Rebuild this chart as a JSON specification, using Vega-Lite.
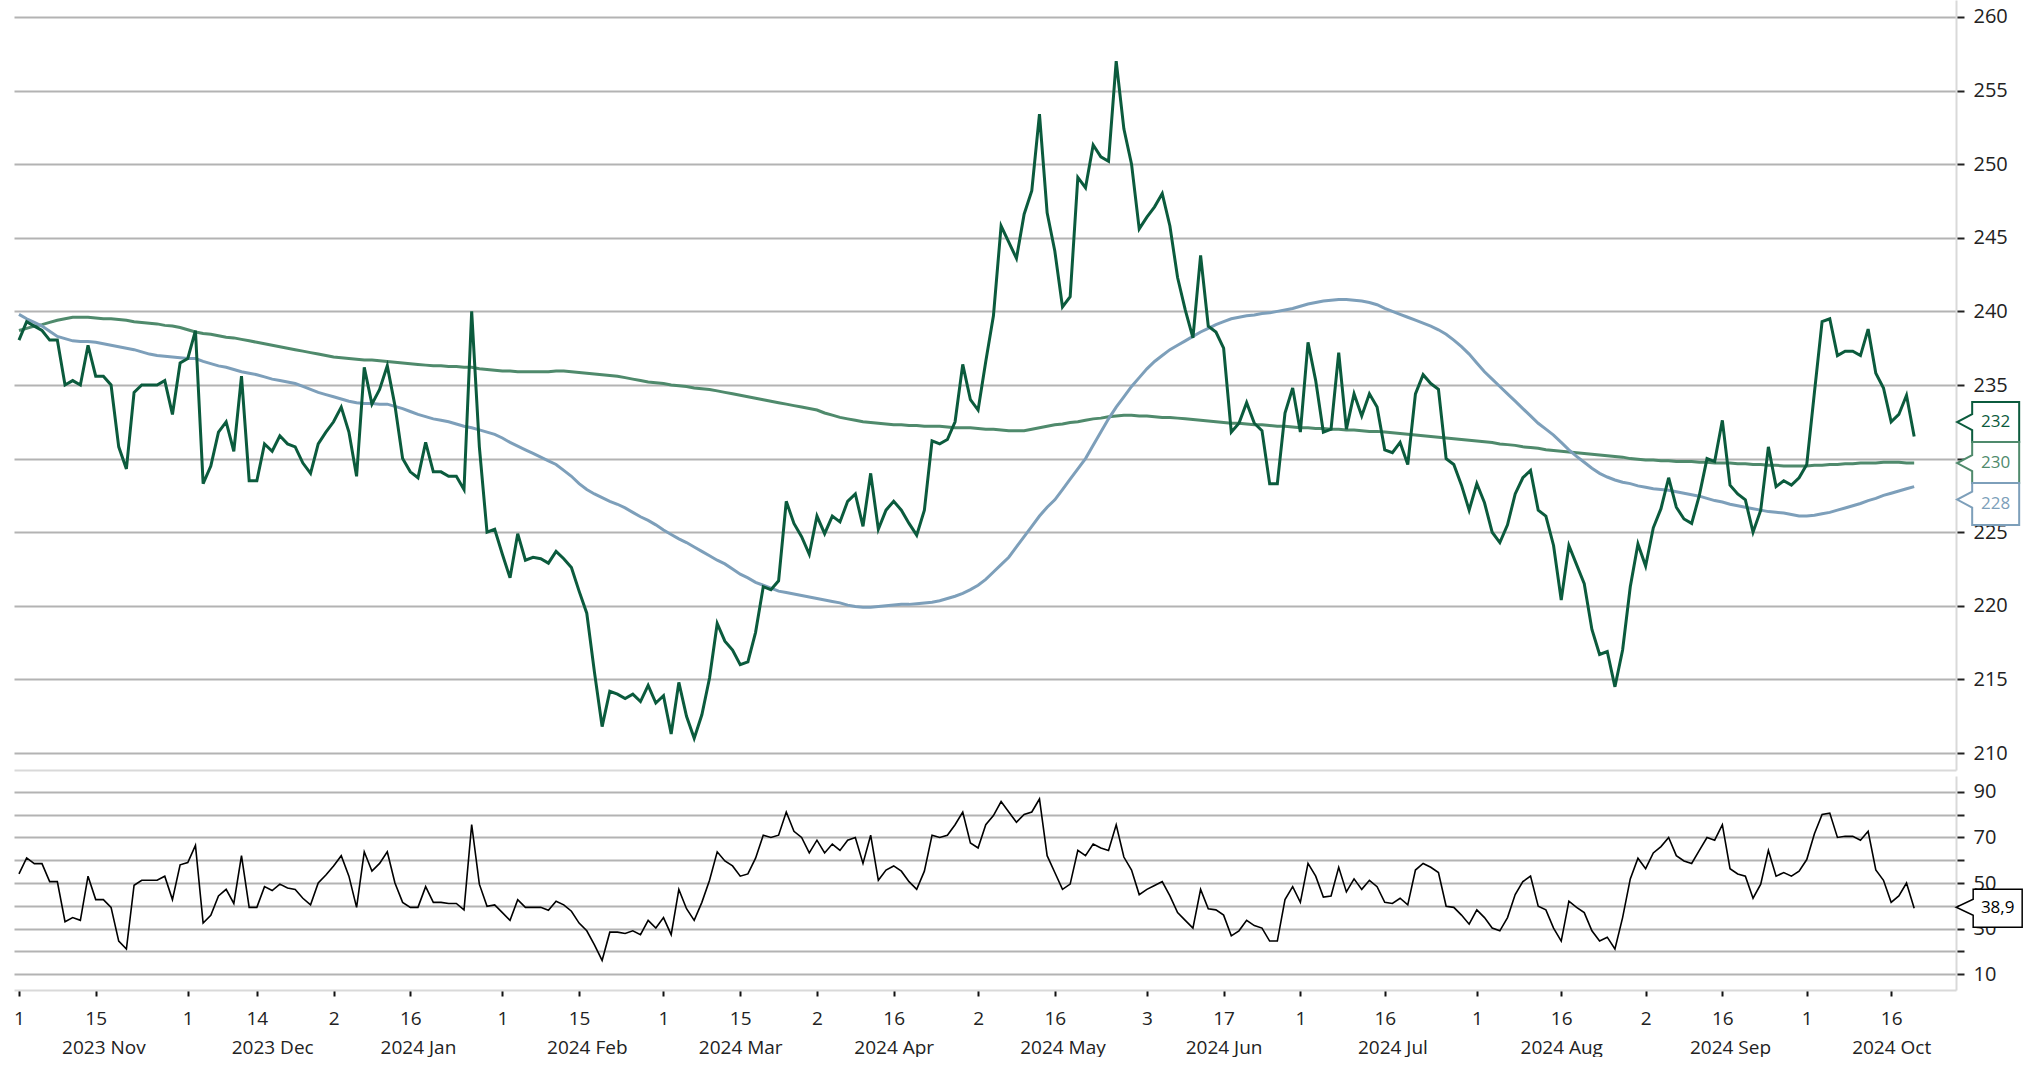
{
  "$schema": "https://vega.github.io/schema/vega-lite/v6.json",
  "padding": {"left": 12, "top": 0, "right": 0, "bottom": 0},
  "background": "white",
  "config": {
    "view": {"stroke": null},
    "font": "Open Sans",
    "locale": {"number": {"decimal": ",", "thousands": ".", "grouping": [3], "currency": ["", " €"]}}
  },
  "datasets": {
    "p": [
      {"d":"2023-11-01","c":238.05,"m50":239.8,"m200":238.7,"rsi":54},
      {"d":"2023-11-02","c":239.3,"m50":239.5,"m200":238.85,"rsi":61},
      {"d":"2023-11-03","c":239.0,"m50":239.25,"m200":239.0,"rsi":58.5},
      {"d":"2023-11-06","c":238.7,"m50":239.0,"m200":239.1,"rsi":58.5},
      {"d":"2023-11-07","c":238.05,"m50":238.65,"m200":239.25,"rsi":50.6},
      {"d":"2023-11-08","c":238.05,"m50":238.3,"m200":239.4,"rsi":50.6},
      {"d":"2023-11-09","c":235.0,"m50":238.15,"m200":239.5,"rsi":33},
      {"d":"2023-11-10","c":235.3,"m50":238.0,"m200":239.6,"rsi":34.8},
      {"d":"2023-11-13","c":235.0,"m50":237.95,"m200":239.6,"rsi":33.6},
      {"d":"2023-11-14","c":237.7,"m50":237.95,"m200":239.6,"rsi":53},
      {"d":"2023-11-15","c":235.6,"m50":237.9,"m200":239.55,"rsi":42.7},
      {"d":"2023-11-16","c":235.6,"m50":237.8,"m200":239.5,"rsi":42.7},
      {"d":"2023-11-17","c":235.0,"m50":237.7,"m200":239.5,"rsi":39.3},
      {"d":"2023-11-20","c":230.8,"m50":237.6,"m200":239.45,"rsi":24.5},
      {"d":"2023-11-21","c":229.3,"m50":237.5,"m200":239.4,"rsi":21},
      {"d":"2023-11-22","c":234.5,"m50":237.4,"m200":239.3,"rsi":49},
      {"d":"2023-11-23","c":235.0,"m50":237.25,"m200":239.25,"rsi":51.2},
      {"d":"2023-11-24","c":235.0,"m50":237.1,"m200":239.2,"rsi":51.2},
      {"d":"2023-11-27","c":235.0,"m50":237.0,"m200":239.15,"rsi":51.2},
      {"d":"2023-11-28","c":235.3,"m50":236.95,"m200":239.05,"rsi":53},
      {"d":"2023-11-29","c":233.0,"m50":236.9,"m200":239.0,"rsi":42.7},
      {"d":"2023-11-30","c":236.5,"m50":236.85,"m200":238.9,"rsi":58},
      {"d":"2023-12-01","c":236.8,"m50":236.8,"m200":238.75,"rsi":59},
      {"d":"2023-12-04","c":238.7,"m50":236.8,"m200":238.6,"rsi":66.5},
      {"d":"2023-12-05","c":228.3,"m50":236.6,"m200":238.5,"rsi":32.4},
      {"d":"2023-12-06","c":229.5,"m50":236.45,"m200":238.45,"rsi":35.8},
      {"d":"2023-12-07","c":231.8,"m50":236.3,"m200":238.35,"rsi":44.3},
      {"d":"2023-12-08","c":232.5,"m50":236.2,"m200":238.25,"rsi":47.2},
      {"d":"2023-12-11","c":230.5,"m50":236.05,"m200":238.2,"rsi":41},
      {"d":"2023-12-12","c":235.6,"m50":235.9,"m200":238.1,"rsi":62},
      {"d":"2023-12-13","c":228.5,"m50":235.8,"m200":238.0,"rsi":39.3},
      {"d":"2023-12-14","c":228.5,"m50":235.7,"m200":237.9,"rsi":39.3},
      {"d":"2023-12-15","c":231.0,"m50":235.55,"m200":237.8,"rsi":48.4},
      {"d":"2023-12-18","c":230.5,"m50":235.4,"m200":237.7,"rsi":46.7},
      {"d":"2023-12-19","c":231.55,"m50":235.3,"m200":237.6,"rsi":49.5},
      {"d":"2023-12-20","c":231.0,"m50":235.2,"m200":237.5,"rsi":47.8},
      {"d":"2023-12-21","c":230.8,"m50":235.1,"m200":237.4,"rsi":47.2},
      {"d":"2023-12-22","c":229.7,"m50":234.9,"m200":237.3,"rsi":43.3},
      {"d":"2023-12-27","c":229.0,"m50":234.7,"m200":237.2,"rsi":40.4},
      {"d":"2023-12-28","c":231.0,"m50":234.5,"m200":237.1,"rsi":50},
      {"d":"2023-12-29","c":231.8,"m50":234.35,"m200":237.0,"rsi":53.5},
      {"d":"2024-01-02","c":232.5,"m50":234.2,"m200":236.9,"rsi":57.5},
      {"d":"2024-01-03","c":233.5,"m50":234.05,"m200":236.85,"rsi":62},
      {"d":"2024-01-04","c":231.8,"m50":233.9,"m200":236.8,"rsi":53},
      {"d":"2024-01-05","c":228.8,"m50":233.8,"m200":236.75,"rsi":39.3},
      {"d":"2024-01-08","c":236.2,"m50":233.75,"m200":236.7,"rsi":63.7},
      {"d":"2024-01-09","c":233.7,"m50":233.75,"m200":236.7,"rsi":55.2},
      {"d":"2024-01-10","c":234.7,"m50":233.7,"m200":236.65,"rsi":58.6},
      {"d":"2024-01-11","c":236.3,"m50":233.7,"m200":236.6,"rsi":63.7},
      {"d":"2024-01-12","c":233.6,"m50":233.55,"m200":236.55,"rsi":50},
      {"d":"2024-01-15","c":230.0,"m50":233.4,"m200":236.5,"rsi":41.5},
      {"d":"2024-01-16","c":229.1,"m50":233.2,"m200":236.45,"rsi":39.3},
      {"d":"2024-01-17","c":228.7,"m50":233.0,"m200":236.4,"rsi":39.3},
      {"d":"2024-01-18","c":231.1,"m50":232.85,"m200":236.35,"rsi":48.4},
      {"d":"2024-01-19","c":229.1,"m50":232.7,"m200":236.3,"rsi":41.5},
      {"d":"2024-01-22","c":229.1,"m50":232.6,"m200":236.3,"rsi":41.5},
      {"d":"2024-01-23","c":228.8,"m50":232.5,"m200":236.25,"rsi":41},
      {"d":"2024-01-24","c":228.8,"m50":232.35,"m200":236.25,"rsi":41},
      {"d":"2024-01-25","c":227.9,"m50":232.2,"m200":236.2,"rsi":38.2},
      {"d":"2024-01-26","c":240.0,"m50":232.1,"m200":236.2,"rsi":75.7},
      {"d":"2024-01-29","c":230.8,"m50":231.95,"m200":236.1,"rsi":49.5},
      {"d":"2024-01-30","c":225.0,"m50":231.8,"m200":236.05,"rsi":39.8},
      {"d":"2024-01-31","c":225.2,"m50":231.65,"m200":236.0,"rsi":40.4},
      {"d":"2024-02-01","c":223.5,"m50":231.4,"m200":235.95,"rsi":37},
      {"d":"2024-02-02","c":221.9,"m50":231.1,"m200":235.95,"rsi":33.6},
      {"d":"2024-02-05","c":224.9,"m50":230.85,"m200":235.9,"rsi":42.7},
      {"d":"2024-02-06","c":223.1,"m50":230.6,"m200":235.9,"rsi":39.3},
      {"d":"2024-02-07","c":223.3,"m50":230.35,"m200":235.9,"rsi":39.3},
      {"d":"2024-02-08","c":223.2,"m50":230.1,"m200":235.9,"rsi":39.3},
      {"d":"2024-02-09","c":222.9,"m50":229.85,"m200":235.9,"rsi":38},
      {"d":"2024-02-12","c":223.7,"m50":229.6,"m200":235.95,"rsi":42},
      {"d":"2024-02-13","c":223.2,"m50":229.2,"m200":235.95,"rsi":40.4},
      {"d":"2024-02-14","c":222.6,"m50":228.8,"m200":235.9,"rsi":37.6},
      {"d":"2024-02-15","c":221.0,"m50":228.3,"m200":235.85,"rsi":32.4},
      {"d":"2024-02-16","c":219.5,"m50":227.9,"m200":235.8,"rsi":29},
      {"d":"2024-02-19","c":215.5,"m50":227.6,"m200":235.75,"rsi":22.8},
      {"d":"2024-02-20","c":211.8,"m50":227.35,"m200":235.7,"rsi":16},
      {"d":"2024-02-21","c":214.2,"m50":227.1,"m200":235.65,"rsi":28.4},
      {"d":"2024-02-22","c":214.0,"m50":226.9,"m200":235.6,"rsi":28.4},
      {"d":"2024-02-23","c":213.7,"m50":226.65,"m200":235.5,"rsi":27.8},
      {"d":"2024-02-26","c":214.0,"m50":226.35,"m200":235.4,"rsi":29},
      {"d":"2024-02-27","c":213.5,"m50":226.05,"m200":235.3,"rsi":27.3},
      {"d":"2024-02-28","c":214.6,"m50":225.8,"m200":235.2,"rsi":33.6},
      {"d":"2024-02-29","c":213.4,"m50":225.5,"m200":235.15,"rsi":30.2},
      {"d":"2024-03-01","c":213.9,"m50":225.15,"m200":235.1,"rsi":34.8},
      {"d":"2024-03-04","c":211.3,"m50":224.85,"m200":235.0,"rsi":27.3},
      {"d":"2024-03-05","c":214.8,"m50":224.55,"m200":234.95,"rsi":47.2},
      {"d":"2024-03-06","c":212.5,"m50":224.3,"m200":234.9,"rsi":38.7},
      {"d":"2024-03-07","c":211.0,"m50":224.0,"m200":234.8,"rsi":33.6},
      {"d":"2024-03-08","c":212.6,"m50":223.7,"m200":234.75,"rsi":41.5},
      {"d":"2024-03-11","c":215.1,"m50":223.4,"m200":234.7,"rsi":51.2},
      {"d":"2024-03-12","c":218.8,"m50":223.1,"m200":234.6,"rsi":63.7},
      {"d":"2024-03-13","c":217.6,"m50":222.85,"m200":234.5,"rsi":59.7},
      {"d":"2024-03-14","c":217.0,"m50":222.5,"m200":234.4,"rsi":57.5},
      {"d":"2024-03-15","c":216.0,"m50":222.15,"m200":234.3,"rsi":53},
      {"d":"2024-03-18","c":216.2,"m50":221.9,"m200":234.2,"rsi":54},
      {"d":"2024-03-19","c":218.2,"m50":221.6,"m200":234.1,"rsi":60.9},
      {"d":"2024-03-20","c":221.3,"m50":221.4,"m200":234.0,"rsi":71},
      {"d":"2024-03-21","c":221.1,"m50":221.2,"m200":233.9,"rsi":70},
      {"d":"2024-03-22","c":221.7,"m50":221.0,"m200":233.8,"rsi":71},
      {"d":"2024-03-25","c":227.1,"m50":220.9,"m200":233.7,"rsi":81.2},
      {"d":"2024-03-26","c":225.6,"m50":220.8,"m200":233.6,"rsi":72.7},
      {"d":"2024-03-27","c":224.7,"m50":220.7,"m200":233.5,"rsi":70},
      {"d":"2024-03-28","c":223.5,"m50":220.6,"m200":233.4,"rsi":63.2},
      {"d":"2024-04-02","c":226.1,"m50":220.5,"m200":233.3,"rsi":68.8},
      {"d":"2024-04-03","c":224.9,"m50":220.4,"m200":233.1,"rsi":63.2},
      {"d":"2024-04-04","c":226.1,"m50":220.3,"m200":232.95,"rsi":67.1},
      {"d":"2024-04-05","c":225.7,"m50":220.2,"m200":232.8,"rsi":64.3},
      {"d":"2024-04-08","c":227.1,"m50":220.05,"m200":232.7,"rsi":68.8},
      {"d":"2024-04-09","c":227.6,"m50":219.95,"m200":232.6,"rsi":70},
      {"d":"2024-04-10","c":225.4,"m50":219.9,"m200":232.5,"rsi":58.6},
      {"d":"2024-04-11","c":229.0,"m50":219.9,"m200":232.45,"rsi":71},
      {"d":"2024-04-12","c":225.2,"m50":219.95,"m200":232.4,"rsi":51.2},
      {"d":"2024-04-15","c":226.5,"m50":220.0,"m200":232.35,"rsi":55.7},
      {"d":"2024-04-16","c":227.1,"m50":220.05,"m200":232.3,"rsi":57.5},
      {"d":"2024-04-17","c":226.5,"m50":220.1,"m200":232.3,"rsi":55.2},
      {"d":"2024-04-18","c":225.6,"m50":220.1,"m200":232.25,"rsi":50.6},
      {"d":"2024-04-19","c":224.8,"m50":220.15,"m200":232.25,"rsi":47.2},
      {"d":"2024-04-22","c":226.5,"m50":220.2,"m200":232.2,"rsi":55.2},
      {"d":"2024-04-23","c":231.2,"m50":220.25,"m200":232.2,"rsi":71},
      {"d":"2024-04-24","c":231.0,"m50":220.35,"m200":232.2,"rsi":70},
      {"d":"2024-04-25","c":231.3,"m50":220.5,"m200":232.15,"rsi":71},
      {"d":"2024-04-26","c":232.5,"m50":220.65,"m200":232.1,"rsi":75.6},
      {"d":"2024-04-29","c":236.4,"m50":220.85,"m200":232.1,"rsi":81.2},
      {"d":"2024-04-30","c":234.0,"m50":221.1,"m200":232.1,"rsi":67.6},
      {"d":"2024-05-02","c":233.3,"m50":221.4,"m200":232.05,"rsi":65.4},
      {"d":"2024-05-03","c":236.6,"m50":221.8,"m200":232.0,"rsi":75.6},
      {"d":"2024-05-06","c":239.7,"m50":222.3,"m200":232.0,"rsi":79.6},
      {"d":"2024-05-07","c":245.8,"m50":222.8,"m200":231.95,"rsi":85.8},
      {"d":"2024-05-08","c":244.7,"m50":223.3,"m200":231.9,"rsi":81.2},
      {"d":"2024-05-09","c":243.6,"m50":224.0,"m200":231.9,"rsi":76.7},
      {"d":"2024-05-10","c":246.6,"m50":224.7,"m200":231.9,"rsi":80.1},
      {"d":"2024-05-13","c":248.2,"m50":225.4,"m200":232.0,"rsi":81.2},
      {"d":"2024-05-14","c":253.4,"m50":226.1,"m200":232.1,"rsi":86.9},
      {"d":"2024-05-15","c":246.7,"m50":226.7,"m200":232.2,"rsi":62},
      {"d":"2024-05-16","c":244.1,"m50":227.2,"m200":232.3,"rsi":54.6},
      {"d":"2024-05-17","c":240.3,"m50":227.9,"m200":232.35,"rsi":47.2},
      {"d":"2024-05-20","c":241.0,"m50":228.6,"m200":232.45,"rsi":49.5},
      {"d":"2024-05-21","c":249.1,"m50":229.3,"m200":232.5,"rsi":64.3},
      {"d":"2024-05-22","c":248.4,"m50":230.0,"m200":232.6,"rsi":62},
      {"d":"2024-05-23","c":251.3,"m50":230.9,"m200":232.7,"rsi":67.1},
      {"d":"2024-05-24","c":250.5,"m50":231.8,"m200":232.75,"rsi":65.4},
      {"d":"2024-05-27","c":250.2,"m50":232.7,"m200":232.85,"rsi":64.3},
      {"d":"2024-05-28","c":257.0,"m50":233.5,"m200":232.9,"rsi":75.6},
      {"d":"2024-05-29","c":252.4,"m50":234.2,"m200":232.95,"rsi":61.4},
      {"d":"2024-05-30","c":250.0,"m50":234.9,"m200":232.95,"rsi":55.7},
      {"d":"2024-05-31","c":245.6,"m50":235.5,"m200":232.9,"rsi":44.9},
      {"d":"2024-06-03","c":246.4,"m50":236.1,"m200":232.9,"rsi":47.2},
      {"d":"2024-06-04","c":247.1,"m50":236.6,"m200":232.85,"rsi":48.9},
      {"d":"2024-06-05","c":248.0,"m50":237.0,"m200":232.8,"rsi":50.6},
      {"d":"2024-06-06","c":245.8,"m50":237.4,"m200":232.8,"rsi":44.3},
      {"d":"2024-06-07","c":242.3,"m50":237.7,"m200":232.75,"rsi":37},
      {"d":"2024-06-10","c":240.1,"m50":238.0,"m200":232.7,"rsi":33.6},
      {"d":"2024-06-11","c":238.2,"m50":238.3,"m200":232.65,"rsi":30.2},
      {"d":"2024-06-12","c":243.8,"m50":238.6,"m200":232.6,"rsi":47.2},
      {"d":"2024-06-13","c":239.0,"m50":238.85,"m200":232.55,"rsi":38.7},
      {"d":"2024-06-14","c":238.6,"m50":239.1,"m200":232.5,"rsi":38.2},
      {"d":"2024-06-17","c":237.5,"m50":239.3,"m200":232.45,"rsi":35.9},
      {"d":"2024-06-18","c":231.8,"m50":239.5,"m200":232.4,"rsi":26.8},
      {"d":"2024-06-19","c":232.4,"m50":239.6,"m200":232.4,"rsi":29},
      {"d":"2024-06-20","c":233.8,"m50":239.7,"m200":232.35,"rsi":33.6},
      {"d":"2024-06-21","c":232.4,"m50":239.75,"m200":232.3,"rsi":31.3},
      {"d":"2024-06-24","c":231.9,"m50":239.85,"m200":232.3,"rsi":30.2},
      {"d":"2024-06-25","c":228.3,"m50":239.9,"m200":232.25,"rsi":24.5},
      {"d":"2024-06-26","c":228.3,"m50":240.0,"m200":232.2,"rsi":24.5},
      {"d":"2024-06-27","c":233.1,"m50":240.1,"m200":232.2,"rsi":42.7},
      {"d":"2024-06-28","c":234.8,"m50":240.2,"m200":232.15,"rsi":48.4},
      {"d":"2024-07-01","c":231.8,"m50":240.35,"m200":232.1,"rsi":41.5},
      {"d":"2024-07-02","c":237.9,"m50":240.5,"m200":232.1,"rsi":58.6},
      {"d":"2024-07-03","c":235.3,"m50":240.6,"m200":232.05,"rsi":53},
      {"d":"2024-07-04","c":231.8,"m50":240.7,"m200":232.05,"rsi":43.8},
      {"d":"2024-07-05","c":232.0,"m50":240.75,"m200":232.0,"rsi":44.3},
      {"d":"2024-07-08","c":237.2,"m50":240.8,"m200":232.0,"rsi":56.9},
      {"d":"2024-07-09","c":232.0,"m50":240.8,"m200":231.95,"rsi":46.1},
      {"d":"2024-07-10","c":234.4,"m50":240.75,"m200":231.95,"rsi":51.8},
      {"d":"2024-07-11","c":232.9,"m50":240.7,"m200":231.9,"rsi":47.2},
      {"d":"2024-07-12","c":234.4,"m50":240.6,"m200":231.85,"rsi":51.2},
      {"d":"2024-07-15","c":233.5,"m50":240.45,"m200":231.85,"rsi":48.4},
      {"d":"2024-07-16","c":230.6,"m50":240.2,"m200":231.8,"rsi":41.5},
      {"d":"2024-07-17","c":230.4,"m50":240.0,"m200":231.75,"rsi":41},
      {"d":"2024-07-18","c":231.1,"m50":239.8,"m200":231.7,"rsi":43.3},
      {"d":"2024-07-19","c":229.6,"m50":239.6,"m200":231.65,"rsi":40.4},
      {"d":"2024-07-22","c":234.4,"m50":239.4,"m200":231.6,"rsi":55.7},
      {"d":"2024-07-23","c":235.7,"m50":239.2,"m200":231.55,"rsi":58.6},
      {"d":"2024-07-24","c":235.1,"m50":239.0,"m200":231.5,"rsi":56.9},
      {"d":"2024-07-25","c":234.7,"m50":238.75,"m200":231.45,"rsi":54.6},
      {"d":"2024-07-26","c":230.0,"m50":238.45,"m200":231.4,"rsi":39.8},
      {"d":"2024-07-29","c":229.6,"m50":238.05,"m200":231.35,"rsi":39.3},
      {"d":"2024-07-30","c":228.2,"m50":237.6,"m200":231.3,"rsi":35.9},
      {"d":"2024-07-31","c":226.5,"m50":237.1,"m200":231.25,"rsi":31.9},
      {"d":"2024-08-01","c":228.3,"m50":236.5,"m200":231.2,"rsi":38.2},
      {"d":"2024-08-02","c":227.0,"m50":235.9,"m200":231.15,"rsi":34.8},
      {"d":"2024-08-05","c":225.0,"m50":235.4,"m200":231.1,"rsi":30.2},
      {"d":"2024-08-06","c":224.3,"m50":234.9,"m200":231.0,"rsi":29},
      {"d":"2024-08-07","c":225.5,"m50":234.4,"m200":230.95,"rsi":34.8},
      {"d":"2024-08-08","c":227.6,"m50":233.9,"m200":230.9,"rsi":44.9},
      {"d":"2024-08-09","c":228.7,"m50":233.4,"m200":230.8,"rsi":50.6},
      {"d":"2024-08-12","c":229.2,"m50":232.9,"m200":230.75,"rsi":53},
      {"d":"2024-08-13","c":226.5,"m50":232.4,"m200":230.7,"rsi":39.8},
      {"d":"2024-08-14","c":226.1,"m50":232.0,"m200":230.6,"rsi":38.2},
      {"d":"2024-08-15","c":224.1,"m50":231.6,"m200":230.55,"rsi":30.2},
      {"d":"2024-08-16","c":220.4,"m50":231.1,"m200":230.5,"rsi":24.5},
      {"d":"2024-08-19","c":224.1,"m50":230.6,"m200":230.45,"rsi":42},
      {"d":"2024-08-20","c":222.8,"m50":230.15,"m200":230.4,"rsi":39.3},
      {"d":"2024-08-21","c":221.5,"m50":229.75,"m200":230.35,"rsi":37},
      {"d":"2024-08-22","c":218.4,"m50":229.35,"m200":230.3,"rsi":29},
      {"d":"2024-08-23","c":216.7,"m50":229.0,"m200":230.25,"rsi":24.5},
      {"d":"2024-08-26","c":216.9,"m50":228.75,"m200":230.2,"rsi":26.2},
      {"d":"2024-08-27","c":214.5,"m50":228.55,"m200":230.15,"rsi":21},
      {"d":"2024-08-28","c":217.0,"m50":228.4,"m200":230.1,"rsi":34.8},
      {"d":"2024-08-29","c":221.3,"m50":228.3,"m200":230.0,"rsi":51.8},
      {"d":"2024-08-30","c":224.2,"m50":228.15,"m200":229.95,"rsi":60.9},
      {"d":"2024-09-02","c":222.7,"m50":228.05,"m200":229.9,"rsi":56.3},
      {"d":"2024-09-03","c":225.3,"m50":227.95,"m200":229.9,"rsi":63.2},
      {"d":"2024-09-04","c":226.6,"m50":227.9,"m200":229.85,"rsi":66},
      {"d":"2024-09-05","c":228.7,"m50":227.85,"m200":229.85,"rsi":70},
      {"d":"2024-09-06","c":226.7,"m50":227.75,"m200":229.8,"rsi":62},
      {"d":"2024-09-09","c":225.9,"m50":227.65,"m200":229.8,"rsi":59.7},
      {"d":"2024-09-10","c":225.6,"m50":227.55,"m200":229.8,"rsi":58.6},
      {"d":"2024-09-11","c":227.5,"m50":227.45,"m200":229.75,"rsi":64.3},
      {"d":"2024-09-12","c":230.0,"m50":227.3,"m200":229.75,"rsi":70},
      {"d":"2024-09-13","c":229.8,"m50":227.15,"m200":229.7,"rsi":68.8},
      {"d":"2024-09-16","c":232.6,"m50":227.05,"m200":229.7,"rsi":75.6},
      {"d":"2024-09-17","c":228.2,"m50":226.9,"m200":229.7,"rsi":56.3},
      {"d":"2024-09-18","c":227.6,"m50":226.8,"m200":229.65,"rsi":54},
      {"d":"2024-09-19","c":227.2,"m50":226.7,"m200":229.65,"rsi":53},
      {"d":"2024-09-20","c":225.0,"m50":226.6,"m200":229.6,"rsi":43.3},
      {"d":"2024-09-23","c":226.5,"m50":226.5,"m200":229.6,"rsi":49.5},
      {"d":"2024-09-24","c":230.8,"m50":226.4,"m200":229.55,"rsi":64.3},
      {"d":"2024-09-25","c":228.1,"m50":226.35,"m200":229.55,"rsi":53},
      {"d":"2024-09-26","c":228.5,"m50":226.3,"m200":229.5,"rsi":54.6},
      {"d":"2024-09-27","c":228.2,"m50":226.2,"m200":229.5,"rsi":53},
      {"d":"2024-09-30","c":228.7,"m50":226.1,"m200":229.5,"rsi":55.2},
      {"d":"2024-10-01","c":229.6,"m50":226.1,"m200":229.5,"rsi":60.3},
      {"d":"2024-10-02","c":234.5,"m50":226.15,"m200":229.55,"rsi":71.6},
      {"d":"2024-10-03","c":239.3,"m50":226.25,"m200":229.55,"rsi":80.1},
      {"d":"2024-10-04","c":239.5,"m50":226.35,"m200":229.6,"rsi":80.7},
      {"d":"2024-10-07","c":237.0,"m50":226.5,"m200":229.6,"rsi":70},
      {"d":"2024-10-08","c":237.3,"m50":226.65,"m200":229.65,"rsi":70.5},
      {"d":"2024-10-09","c":237.3,"m50":226.8,"m200":229.65,"rsi":70.5},
      {"d":"2024-10-10","c":237.0,"m50":226.95,"m200":229.7,"rsi":68.8},
      {"d":"2024-10-11","c":238.8,"m50":227.15,"m200":229.7,"rsi":72.7},
      {"d":"2024-10-14","c":235.8,"m50":227.3,"m200":229.7,"rsi":55.7},
      {"d":"2024-10-15","c":234.8,"m50":227.5,"m200":229.75,"rsi":51.2},
      {"d":"2024-10-16","c":232.5,"m50":227.65,"m200":229.75,"rsi":41.5},
      {"d":"2024-10-17","c":233.0,"m50":227.8,"m200":229.75,"rsi":44.3},
      {"d":"2024-10-18","c":234.3,"m50":227.95,"m200":229.7,"rsi":50},
      {"d":"2024-10-21","c":231.5,"m50":228.1,"m200":229.7,"rsi":38.9}
    ]
  },
  "spacing": 6,
  "resolve": {"scale": {"x": "shared"}},
  "vconcat": [
    {
      "width": 1942,
      "height": 770,
      "data": {"name": "p"},
      "encoding": {
        "x": {
          "field": "d", "type": "ordinal",
          "scale": {
            "type": "point", "padding": 0.55, "align": 0.59,
            "domain": ["2023-11-01","2023-11-02","2023-11-03","2023-11-06","2023-11-07","2023-11-08","2023-11-09","2023-11-10","2023-11-13","2023-11-14","2023-11-15","2023-11-16","2023-11-17","2023-11-20","2023-11-21","2023-11-22","2023-11-23","2023-11-24","2023-11-27","2023-11-28","2023-11-29","2023-11-30","2023-12-01","2023-12-04","2023-12-05","2023-12-06","2023-12-07","2023-12-08","2023-12-11","2023-12-12","2023-12-13","2023-12-14","2023-12-15","2023-12-18","2023-12-19","2023-12-20","2023-12-21","2023-12-22","2023-12-27","2023-12-28","2023-12-29","2024-01-02","2024-01-03","2024-01-04","2024-01-05","2024-01-08","2024-01-09","2024-01-10","2024-01-11","2024-01-12","2024-01-15","2024-01-16","2024-01-17","2024-01-18","2024-01-19","2024-01-22","2024-01-23","2024-01-24","2024-01-25","2024-01-26","2024-01-29","2024-01-30","2024-01-31","2024-02-01","2024-02-02","2024-02-05","2024-02-06","2024-02-07","2024-02-08","2024-02-09","2024-02-12","2024-02-13","2024-02-14","2024-02-15","2024-02-16","2024-02-19","2024-02-20","2024-02-21","2024-02-22","2024-02-23","2024-02-26","2024-02-27","2024-02-28","2024-02-29","2024-03-01","2024-03-04","2024-03-05","2024-03-06","2024-03-07","2024-03-08","2024-03-11","2024-03-12","2024-03-13","2024-03-14","2024-03-15","2024-03-18","2024-03-19","2024-03-20","2024-03-21","2024-03-22","2024-03-25","2024-03-26","2024-03-27","2024-03-28","2024-04-02","2024-04-03","2024-04-04","2024-04-05","2024-04-08","2024-04-09","2024-04-10","2024-04-11","2024-04-12","2024-04-15","2024-04-16","2024-04-17","2024-04-18","2024-04-19","2024-04-22","2024-04-23","2024-04-24","2024-04-25","2024-04-26","2024-04-29","2024-04-30","2024-05-02","2024-05-03","2024-05-06","2024-05-07","2024-05-08","2024-05-09","2024-05-10","2024-05-13","2024-05-14","2024-05-15","2024-05-16","2024-05-17","2024-05-20","2024-05-21","2024-05-22","2024-05-23","2024-05-24","2024-05-27","2024-05-28","2024-05-29","2024-05-30","2024-05-31","2024-06-03","2024-06-04","2024-06-05","2024-06-06","2024-06-07","2024-06-10","2024-06-11","2024-06-12","2024-06-13","2024-06-14","2024-06-17","2024-06-18","2024-06-19","2024-06-20","2024-06-21","2024-06-24","2024-06-25","2024-06-26","2024-06-27","2024-06-28","2024-07-01","2024-07-02","2024-07-03","2024-07-04","2024-07-05","2024-07-08","2024-07-09","2024-07-10","2024-07-11","2024-07-12","2024-07-15","2024-07-16","2024-07-17","2024-07-18","2024-07-19","2024-07-22","2024-07-23","2024-07-24","2024-07-25","2024-07-26","2024-07-29","2024-07-30","2024-07-31","2024-08-01","2024-08-02","2024-08-05","2024-08-06","2024-08-07","2024-08-08","2024-08-09","2024-08-12","2024-08-13","2024-08-14","2024-08-15","2024-08-16","2024-08-19","2024-08-20","2024-08-21","2024-08-22","2024-08-23","2024-08-26","2024-08-27","2024-08-28","2024-08-29","2024-08-30","2024-09-02","2024-09-03","2024-09-04","2024-09-05","2024-09-06","2024-09-09","2024-09-10","2024-09-11","2024-09-12","2024-09-13","2024-09-16","2024-09-17","2024-09-18","2024-09-19","2024-09-20","2024-09-23","2024-09-24","2024-09-25","2024-09-26","2024-09-27","2024-09-30","2024-10-01","2024-10-02","2024-10-03","2024-10-04","2024-10-07","2024-10-08","2024-10-09","2024-10-10","2024-10-11","2024-10-14","2024-10-15","2024-10-16","2024-10-17","2024-10-18","2024-10-21","2024-10-22","2024-10-23","2024-10-24","2024-10-25","2024-10-28"]
          },
          "axis": {"labels": false, "ticks": false, "title": null, "grid": false, "domainColor": "#d9d9d9", "domainWidth": 2}
        },
        "y": {
          "type": "quantitative",
          "scale": {"domain": [208.85, 261.15], "nice": false, "zero": false},
          "axis": {
            "orient": "right", "title": null,
            "values": [210, 215, 220, 225, 230, 235, 240, 245, 250, 255, 260],
            "grid": true, "gridColor": "#b3b3b3", "gridWidth": 2,
            "domainColor": "#d9d9d9", "domainWidth": 2,
            "tickColor": "#222222", "tickSize": 8, "tickWidth": 2,
            "labelFont": "Open Sans", "labelFontSize": 20, "labelColor": "#222222", "labelPadding": 9, "labelOverlap": false
          }
        }
      },
      "layer": [
        {
          "mark": {"type": "line", "color": "#4f8a6c", "strokeWidth": 3},
          "encoding": {"y": {"field": "m200"}}
        },
        {
          "mark": {"type": "line", "color": "#7d9fba", "strokeWidth": 3},
          "encoding": {"y": {"field": "m50"}}
        },
        {
          "mark": {"type": "line", "color": "#0b5b3d", "strokeWidth": 3},
          "encoding": {"y": {"field": "c"}}
        },
        {
          "transform": [{"filter": "datum.d == '2024-10-21'"}],
          "mark": {"type": "point", "shape": "M58,-34.5L105,-34.5L105,5.5L58,5.5L58,-6.5L43,-14.5L58,-22.5Z", "size": 4, "filled": true, "fill": "white", "stroke": "#0b5b3d", "strokeWidth": 2, "opacity": 1},
          "encoding": {"y": {"field": "c"}}
        },
        {
          "transform": [{"filter": "datum.d == '2024-10-21'"}],
          "mark": {"type": "text", "dx": 81.5, "dy": -14.5, "font": "Open Sans", "fontSize": 17, "color": "#0b5b3d"},
          "encoding": {
            "y": {"field": "c"},
            "text": {"field": "c", "type": "quantitative", "format": ".0f"}
          }
        },
        {
          "transform": [{"filter": "datum.d == '2024-10-21'"}],
          "mark": {"type": "point", "shape": "M58,-21L105,-21L105,20L58,20L58,8L43,0L58,-8Z", "size": 4, "filled": true, "fill": "white", "stroke": "#4f8a6c", "strokeWidth": 2, "opacity": 1},
          "encoding": {"y": {"field": "m200"}}
        },
        {
          "transform": [{"filter": "datum.d == '2024-10-21'"}],
          "mark": {"type": "text", "dx": 81.5, "dy": -0.5, "font": "Open Sans", "fontSize": 17, "color": "#4f8a6c"},
          "encoding": {
            "y": {"field": "m200"},
            "text": {"field": "m200", "type": "quantitative", "format": ".0f"}
          }
        },
        {
          "transform": [{"filter": "datum.d == '2024-10-21'"}],
          "mark": {"type": "point", "shape": "M58,-3.6L105,-3.6L105,38.4L58,38.4L58,21L43,13L58,5Z", "size": 4, "filled": true, "fill": "white", "stroke": "#7d9fba", "strokeWidth": 2, "opacity": 1},
          "encoding": {"y": {"field": "m50"}}
        },
        {
          "transform": [{"filter": "datum.d == '2024-10-21'"}],
          "mark": {"type": "text", "dx": 81.5, "dy": 17.4, "font": "Open Sans", "fontSize": 17, "color": "#7d9fba"},
          "encoding": {
            "y": {"field": "m50"},
            "text": {"field": "m50", "type": "quantitative", "format": ".0f"}
          }
        }
      ]
    },
    {
      "width": 1942,
      "height": 214,
      "data": {"name": "p"},
      "resolve": {"axis": {"x": "independent"}},
      "encoding": {
        "y": {
          "field": "rsi", "type": "quantitative",
          "scale": {"domain": [3, 97], "nice": false, "zero": false},
          "axis": {
            "orient": "right", "title": null,
            "values": [10, 20, 30, 40, 50, 60, 70, 80, 90],
            "labelExpr": "datum.value % 20 == 10 ? datum.label : ''",
            "grid": true, "gridColor": "#b3b3b3", "gridWidth": 2,
            "domainColor": "#d9d9d9", "domainWidth": 2,
            "tickColor": "#222222", "tickSize": 8, "tickWidth": 2,
            "labelFont": "Open Sans", "labelFontSize": 20, "labelColor": "#222222", "labelPadding": 9, "labelOverlap": false
          }
        }
      },
      "layer": [
        {
          "mark": {"type": "line", "color": "#000000", "strokeWidth": 1.6},
          "encoding": {
            "x": {
              "field": "d", "type": "ordinal",
              "axis": {
                "orient": "bottom", "title": null, "grid": false, "labelAngle": 0,
                "values": ["2023-11-01","2023-11-15","2023-12-01","2023-12-14","2024-01-02","2024-01-16","2024-02-01","2024-02-15","2024-03-01","2024-03-15","2024-04-02","2024-04-16","2024-05-02","2024-05-16","2024-06-03","2024-06-17","2024-07-01","2024-07-16","2024-08-01","2024-08-16","2024-09-02","2024-09-16","2024-10-01","2024-10-16"],
                "labelExpr": "'' + toNumber(slice(datum.value, 8, 10))",
                "domainColor": "#d9d9d9", "domainWidth": 2,
                "tickColor": "#111111", "tickWidth": 2, "tickSize": 6,
                "labelFont": "Open Sans", "labelFontSize": 19, "labelColor": "#222222", "labelPadding": 13, "labelOverlap": false
              }
            }
          }
        },
        {
          "mark": {"type": "line", "opacity": 0},
          "encoding": {
            "x": {
              "field": "d", "type": "ordinal",
              "axis": {
                "orient": "bottom", "title": null, "grid": false, "labelAngle": 0, "domain": false, "ticks": false,
                "values": ["2023-11-16","2023-12-18","2024-01-17","2024-02-16","2024-03-15","2024-04-16","2024-05-17","2024-06-17","2024-07-17","2024-08-16","2024-09-17","2024-10-16"],
                "labelExpr": "slice(datum.value, 0, 4) + ' ' + ['Jan','Feb','Mar','Apr','May','Jun','Jul','Aug','Sep','Oct','Nov','Dec'][toNumber(slice(datum.value, 5, 7)) - 1]",
                "labelFont": "Open Sans", "labelFontSize": 19, "labelColor": "#222222", "labelPadding": 48, "labelOverlap": false
              }
            }
          }
        },
        {
          "transform": [{"filter": "datum.d == '2024-10-21'"}],
          "mark": {"type": "point", "shape": "M59,-19L108,-19L108,19L59,19L59,7L42,-1L59,-9Z", "size": 4, "filled": true, "fill": "white", "stroke": "#000000", "strokeWidth": 1.5, "opacity": 1},
          "encoding": {
            "x": {"field": "d", "type": "ordinal", "axis": null}
          }
        },
        {
          "transform": [{"filter": "datum.d == '2024-10-21'"}],
          "mark": {"type": "text", "dx": 83.5, "dy": -0.5, "font": "Open Sans", "fontSize": 17, "color": "#000000"},
          "encoding": {
            "x": {"field": "d", "type": "ordinal", "axis": null},
            "text": {"field": "rsi", "type": "quantitative", "format": ".1f"}
          }
        }
      ]
    }
  ]
}
